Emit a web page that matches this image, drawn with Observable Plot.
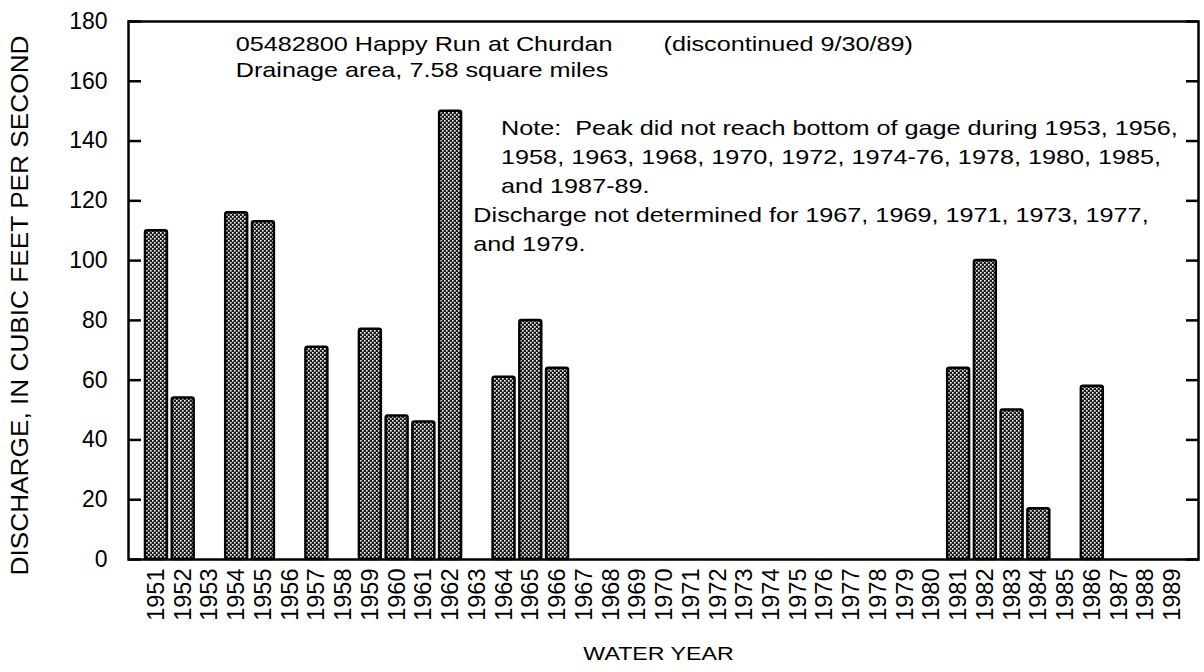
<!DOCTYPE html>
<html>
<head>
<meta charset="utf-8">
<script src="https://cdn.jsdelivr.net/npm/d3@7"></script>
<script src="https://cdn.jsdelivr.net/npm/@observablehq/plot@0.6"></script>
<style>
  html, body { margin: 0; padding: 0; background: #fff; }
  #chart { width: 1204px; height: 672px; }
  svg { font-family: "Liberation Sans", Arial, Helvetica, sans-serif; }
</style>
</head>
<body>
<div id="chart"></div>
<script>
// ---- data ----
const years = d3.range(1951, 1990).map(String);
const barYears = ["1951","1952","1954","1955","1957","1959","1960","1961","1962","1964","1965","1966","1981","1982","1983","1984","1986"];
const discharge = [110, 54, 116, 113, 71, 77, 48, 46, 150, 61, 80, 64, 64, 100, 50, 17, 58];
const yTicks = [0, 20, 40, 60, 80, 100, 120, 140, 160, 180];

const titleLines = ["05482800 Happy Run at Churdan", "Drainage area, 7.58 square miles"];
const titleY = [172.3, 163.8];
const discText = "(discontinued 9/30/89)";
const noteLines = [
  "Note:  Peak did not reach bottom of gage during 1953, 1956,",
  "1958, 1963, 1968, 1970, 1972, 1974-76, 1978, 1980, 1985,",
  "and 1987-89."
];
const noteY = [144.2, 134.5, 124.8];
const detLines = [
  "Discharge not determined for 1967, 1969, 1971, 1973, 1977,",
  "and 1979."
];
const detY = [115.1, 105.4];
const xTitle = "WATER YEAR";
const yTitle = "DISCHARGE, IN CUBIC FEET PER SECOND";

const bars = barYears.map((y, i) => ({year: y, value: discharge[i]}));

const chart = Plot.plot({
  width: 1204,
  height: 672,
  marginLeft: 128,
  marginRight: 6,
  marginTop: 21,
  marginBottom: 113,
  style: {fontFamily: '"Liberation Sans", Arial, sans-serif', background: "#fff", color: "#000"},
  x: {type: "band", domain: years, insetLeft: 17, insetRight: 15, paddingInner: 0.18, paddingOuter: 0, align: 0.5, round: false},
  y: {domain: [0, 180]},
  marks: [
    Plot.barY(bars, {x: "year", y: "value", fill: "url(#stipple)", stroke: "#000", strokeWidth: 2.5, rx: 2}),
    Plot.frame({stroke: "#000", strokeWidth: 2.5}),
    Plot.axisY(yTicks, {anchor: "left", tickSize: -13, strokeWidth: 2.5, text: null, label: null}),
    Plot.axisY(yTicks, {anchor: "right", tickSize: -13, strokeWidth: 2.5, text: null, label: null}),
    Plot.axisY(yTicks, {anchor: "left", tickSize: 0, tickPadding: 21, fontSize: 23, label: null}),
    Plot.axisX(years, {anchor: "bottom", tickSize: 0, tickPadding: 9, tickRotate: -90, fontSize: 23.5, label: null}),
    Plot.text([xTitle], {frameAnchor: "bottom", dx: -5, dy: 100, fontSize: 19, fill: "#000"}),
    Plot.text([yTitle], {frameAnchor: "left", dx: -108, dy: 15, rotate: -90, textAnchor: "middle", fontSize: 23, fill: "#000"}),
    Plot.text(titleLines, {x: () => "1954", y: (d, i) => titleY[i], textAnchor: "start", dx: -1, fontSize: 21, fill: "#000"}),
    Plot.text([discText], {x: () => "1970", y: () => titleY[0], textAnchor: "start", dx: -1, fontSize: 21, fill: "#000"}),
    Plot.text(noteLines, {x: () => "1964", y: (d, i) => noteY[i], textAnchor: "start", dx: -3, fontSize: 21, fill: "#000"}),
    Plot.text(detLines, {x: () => "1963", y: (d, i) => detY[i], textAnchor: "start", dx: -4, fontSize: 21, fill: "#000"})
  ]
});

// stipple pattern for bars
const svg = d3.select(chart);
const defs = svg.insert("defs", ":first-child");
const pat = defs.append("pattern").attr("id", "stipple").attr("patternUnits", "userSpaceOnUse")
  .attr("width", 4).attr("height", 4);
pat.append("rect").attr("width", 4).attr("height", 4).attr("fill", "#1a1a1a");
pat.append("rect").attr("x", 0).attr("y", 0).attr("width", 1.6).attr("height", 1.6).attr("fill", "#fff");
pat.append("rect").attr("x", 2).attr("y", 2).attr("width", 1.6).attr("height", 1.6).attr("fill", "#fff");

document.getElementById("chart").appendChild(chart);

// the original lettering is set wide: stretch the annotation glyphs horizontally
const stretch = new Map();
[...titleLines, discText, ...noteLines, ...detLines].forEach(t => stretch.set(t, 1.2));
stretch.set(xTitle, 1.22);
stretch.set(yTitle, 1.14);
svg.selectAll("text").each(function() {
  const f = stretch.get(this.textContent);
  if (f) {
    const len = this.getComputedTextLength();
    this.setAttribute("textLength", (len * f).toFixed(1));
    this.setAttribute("lengthAdjust", "spacingAndGlyphs");
  }
});
</script>
</body>
</html>
